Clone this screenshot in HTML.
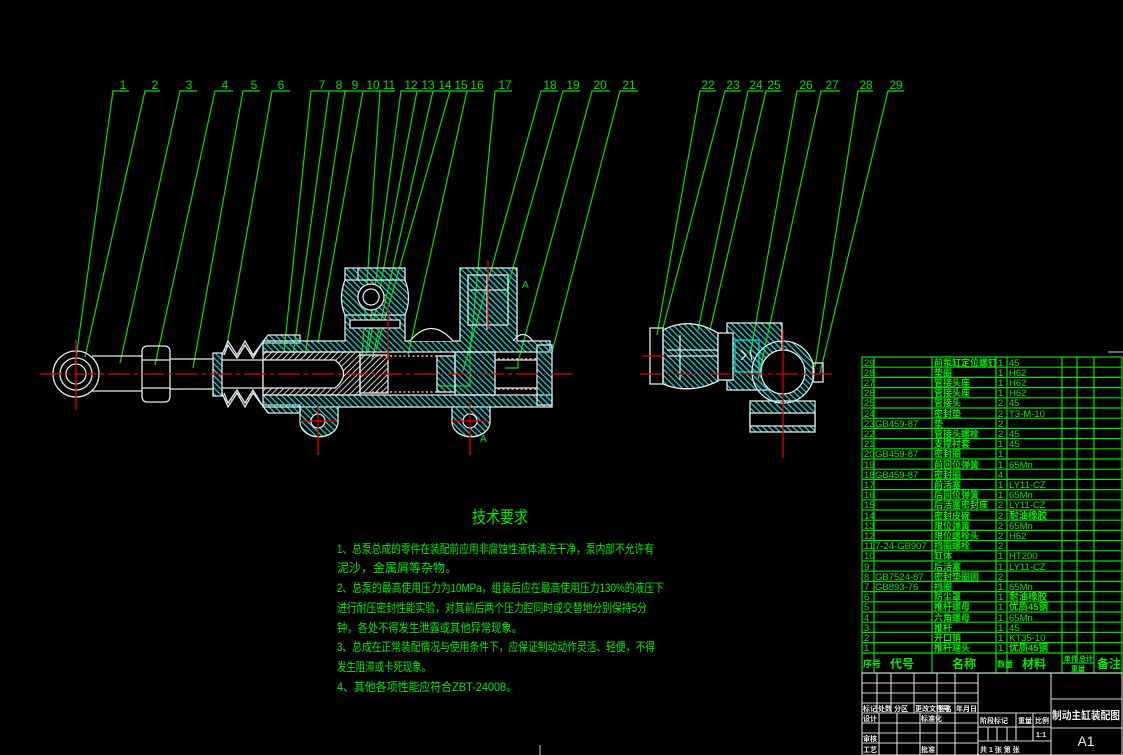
<!DOCTYPE html>
<html><head><meta charset="utf-8"><style>
html,body{margin:0;padding:0;background:#000;}
svg{display:block;}
</style></head><body>
<svg width="1123" height="755" viewBox="0 0 1123 755" xmlns="http://www.w3.org/2000/svg" font-family="'Liberation Sans','Noto Sans CJK SC',sans-serif">
<defs>
<pattern id="h" patternUnits="userSpaceOnUse" width="6" height="6">
<path d="M-1,-1 L7,7 M-1,5 L1,7 M5,-1 L7,1" stroke="#00d8d8" stroke-width="1.3"/>
</pattern>
<pattern id="w" patternUnits="userSpaceOnUse" width="6" height="6">
<path d="M-1,7 L7,-1 M-1,1 L1,-1 M5,7 L7,5" stroke="#cccccc" stroke-width="1"/>
</pattern>
</defs>
<rect width="1123" height="755" fill="#000"/>

<!-- leaders -->
<g stroke="#00e000" stroke-width="1.2" fill="none">
<path d="M129,91 H113 L75,365"/><path d="M160,91 H145 L85,357"/><path d="M197,91 H180 L120,363"/>
<path d="M233,91 H215 L155,365"/><path d="M260,91 H243 L193,368"/><path d="M290,91 H272 L227,345"/>
<path d="M328,91 H311 L284,352"/><path d="M347,91 H329 L293,356"/><path d="M362,91 H345 L305,356"/>
<path d="M380,91 H363 L318,343"/><path d="M395,91 H380 L362,358"/><path d="M418,91 H401 L366,355"/>
<path d="M432,91 H417 L368,352"/><path d="M450,91 H433 L372,360"/><path d="M467,91 H450 L376,350"/>
<path d="M484,91 H467 L408,355"/><path d="M512,91 H495 L470,353 V386 H438"/><path d="M558,91 H541 L463,371"/>
<path d="M580,91 H563 L505,296"/><path d="M610,91 H592 L518,362 V368 H505"/><path d="M638,91 H620 L552,352"/>
<path d="M716,91 H700 L657,335"/><path d="M741,91 H725 L663,328"/><path d="M763,91 H748 L698,330"/>
<path d="M781,91 H766 L710,330"/><path d="M815,91 H797 L750,356"/><path d="M840,91 H821 L758,379"/>
<path d="M873,91 H858 L815,367"/><path d="M904,91 H888 L820,373"/>
</g>
<g fill="#00e000" font-size="12" text-anchor="middle">
<text x="123" y="89">1</text><text x="155" y="89">2</text><text x="189" y="89">3</text><text x="225" y="89">4</text>
<text x="254" y="89">5</text><text x="281" y="89">6</text><text x="322" y="89">7</text><text x="339" y="89">8</text>
<text x="355" y="89">9</text><text x="373" y="89">10</text><text x="389" y="89">11</text><text x="411" y="89">12</text>
<text x="428" y="89">13</text><text x="445" y="89">14</text><text x="461" y="89">15</text><text x="477" y="89">16</text>
<text x="505" y="89">17</text><text x="550" y="89">18</text><text x="573" y="89">19</text><text x="600" y="89">20</text>
<text x="629" y="89">21</text><text x="708" y="89">22</text><text x="733" y="89">23</text><text x="756" y="89">24</text>
<text x="774" y="89">25</text><text x="806" y="89">26</text><text x="832" y="89">27</text><text x="866" y="89">28</text>
<text x="896" y="89">29</text>
</g>

<!-- left assembly -->
<g stroke="#e8e8e8" stroke-width="1.3" fill="none">
<circle cx="76" cy="374" r="23"/><circle cx="76" cy="374" r="16"/><circle cx="76" cy="374" r="10"/>
<path d="M92,356 H142 M92,391 H142"/>
<rect x="142" y="346" width="28" height="56" rx="5"/>
<path d="M142,360 H170 M142,388 H170"/>
<path d="M170,359 H213 M170,389 H213"/>
<!-- boot -->
<path d="M213,353 H222 V396 H213 Z" fill="url(#h)"/>
<path d="M222,355 L228,341 L237,355 L245,341 L253,355 L268,335 H300 V343 H262 L253,358 L245,345 L237,358 L228,345 L224,355" fill="url(#h)"/>
<path d="M222,393 L228,407 L237,393 L245,407 L253,393 L268,413 H300 V405 H262 L253,390 L245,403 L237,390 L228,403 L224,393" fill="url(#h)"/>
<path d="M222,360 H300 M222,388 H300"/>
<!-- body -->
<path d="M263,341 H345 V315 Q338,298 345,280 V268 H405 V280 Q412,298 405,315 V341 H460 V268 H517 V341 H550 V352 H263 Z" fill="url(#h)"/>
<path d="M263,395 H552 V407 H263 Z" fill="url(#h)"/>
<path d="M345,280 H405 M358,268 V280"/>
<circle cx="371" cy="297" r="13" fill="#000"/><circle cx="371" cy="297" r="8"/>
<path d="M345,315 H405 M350,320 H400 V328 H350 Z" fill="#000"/>
<path d="M410,341 Q431,316 453,341" fill="#000"/>
<path d="M513,341 Q523,328 533,341"/>
<rect x="468" y="275" width="40" height="50" fill="url(#h)"/>
<path d="M487,275 V330 M470,290 H506"/>
<rect x="537" y="345" width="15" height="60" fill="url(#h)"/>
<!-- lugs -->
<path d="M300,407 V422 A18,14 0 0 0 338,422 V407" fill="url(#h)"/>
<circle cx="318" cy="421" r="7" fill="#000"/>
<path d="M452,407 V422 A18,14 0 0 0 490,422 V407" fill="url(#h)"/>
<circle cx="470" cy="421" r="7" fill="#000"/>
<!-- rear piston -->
<path d="M263,352 H360 V395 H263 Z" fill="url(#w)"/>
<path d="M263,360 H335 Q352,374 335,388 H263 Z" fill="#000"/>
<rect x="360" y="355" width="28" height="38" fill="url(#w)"/>
<rect x="437" y="356" width="18" height="36" fill="url(#h)"/>
<rect x="455" y="352" width="40" height="43" fill="url(#h)"/>
<path d="M495,360 H537 M495,388 H537"/>
</g>
<g fill="none" stroke="#ffb0b0" stroke-width="1.5" stroke-dasharray="2 2.5">
<path d="M372,356 H450 M372,392 H450 M498,359 H537 M498,389 H537"/>
</g>

<!-- right assembly -->
<g stroke="#e8e8e8" stroke-width="1.3" fill="none">
<rect x="650" y="328" width="13" height="56"/>
<path d="M663,330 Q690,316 718,333 V381 Q690,395 663,384 Z" fill="url(#h)"/>
<path d="M667,350 H718 M667,356 H718 M680,335 V380"/>
<rect x="727" y="323" width="55" height="67" fill="url(#h)"/>
<rect x="718" y="333" width="15" height="47" fill="#000"/>
<rect x="735" y="340" width="24" height="32" fill="url(#h)" stroke="#00d8d8"/>
<path d="M741,350 L746,355 L741,360 M750,350 L752,360"/>
<circle cx="783" cy="372" r="31" fill="url(#h)"/>
<circle cx="783" cy="372" r="22" fill="#000"/>
<rect x="750" y="401" width="65" height="31" fill="url(#h)"/>
<rect x="750" y="413" width="65" height="13" fill="#000"/>
<rect x="813" y="363" width="10" height="19"/>
</g>

<!-- center lines -->
<g stroke="#e00000" stroke-width="1.3" fill="none">
<path d="M40,374 H572" stroke-dasharray="22 4 4 4"/>
<path d="M640,374 H835" stroke-dasharray="22 4 4 4"/>
<path d="M76,340 V410 M318,404 V455 M300,421 H336 M470,402 V455 M452,421 H488 M388,303 V360 M488,260 V330 M783,330 V458 M643,356 H665"/>
</g>
<g fill="#00e000" font-size="10"><text x="522" y="288">A</text><text x="480" y="442">A</text></g>

<!-- technical requirements -->
<g fill="#00ee00">
<text x="500" y="523" font-size="17" text-anchor="middle" textLength="56" lengthAdjust="spacingAndGlyphs">技术要求</text>
<g font-size="12">
<text x="337" y="553" textLength="317" lengthAdjust="spacingAndGlyphs">1、总泵总成的零件在装配前应用非腐蚀性液体清洗干净，泵内部不允许有</text>
<text x="337" y="572" textLength="120" lengthAdjust="spacingAndGlyphs">泥沙，金属屑等杂物。</text>
<text x="337" y="592" textLength="327" lengthAdjust="spacingAndGlyphs">2、总泵的最高使用压力为10MPa，组装后应在最高使用压力130%的液压下</text>
<text x="337" y="612" textLength="310" lengthAdjust="spacingAndGlyphs">进行耐压密封性能实验，对其前后两个压力腔同时或交替地分别保持5分</text>
<text x="337" y="632" textLength="185" lengthAdjust="spacingAndGlyphs">钟，各处不得发生泄露或其他异常现象。</text>
<text x="337" y="651" textLength="318" lengthAdjust="spacingAndGlyphs">3、总成在正常装配情况与使用条件下，应保证制动动作灵活、轻便，不得</text>
<text x="337" y="671" textLength="94" lengthAdjust="spacingAndGlyphs">发生阻滞或卡死现象。</text>
<text x="337" y="691" textLength="180" lengthAdjust="spacingAndGlyphs">4、其他各项性能应符合ZBT-24008。</text>
</g></g>

<!-- parts table -->
<path d="M1108,352 H1123" stroke="#ccc" stroke-width="1"/>
<g stroke="#00e000" stroke-width="1.2" fill="none">
<rect x="862" y="357" width="260" height="316"/>
<path d="M862,367.2 H1122 M862,377.4 H1122 M862,387.6 H1122 M862,397.8 H1122 M862,408 H1122 M862,418.2 H1122 M862,428.4 H1122 M862,438.6 H1122 M862,448.8 H1122 M862,459 H1122 M862,469.2 H1122 M862,479.4 H1122 M862,489.6 H1122 M862,499.8 H1122 M862,510 H1122 M862,520.2 H1122 M862,530.4 H1122 M862,540.6 H1122 M862,550.8 H1122 M862,561 H1122 M862,571.2 H1122 M862,581.4 H1122 M862,591.6 H1122 M862,601.8 H1122 M862,612 H1122 M862,622.2 H1122 M862,632.4 H1122 M862,642.6 H1122 M862,653 H1122"/>
<path d="M874,357 V673 M932,357 V673 M996,357 V673 M1007,357 V673 M1062,357 V673 M1077,357 V663 M1094,357 V673 M1062,663 H1094"/>
</g>
<g fill="#00ee00" font-size="9.5">
<g>
<text x="864" y="366">29</text><text x="864" y="376">28</text><text x="864" y="386">27</text><text x="864" y="396">26</text><text x="864" y="406">25</text><text x="864" y="417">24</text><text x="864" y="427">23</text><text x="864" y="437">22</text><text x="864" y="447">21</text><text x="864" y="457">20</text><text x="864" y="468">19</text><text x="864" y="478">18</text><text x="864" y="488">17</text><text x="864" y="498">16</text><text x="864" y="508">15</text><text x="864" y="519">14</text><text x="864" y="529">13</text><text x="864" y="539">12</text><text x="864" y="549">11</text><text x="864" y="559">10</text><text x="864" y="570">9</text><text x="864" y="580">8</text><text x="864" y="590">7</text><text x="864" y="600">6</text><text x="864" y="610">5</text><text x="864" y="621">4</text><text x="864" y="631">3</text><text x="864" y="641">2</text><text x="864" y="651">1</text>
</g>
<text x="875" y="427">GB459-87</text><text x="875" y="457">GB459-87</text><text x="875" y="478">GB459-87</text><text x="875" y="549">7-24-GB907</text><text x="875" y="580">GB7524-87</text><text x="875" y="590">GB893-76</text>
<g font-weight="bold" font-size="9">
<text x="934" y="366">前泵缸定位螺钉</text><text x="934" y="376">垫圈</text><text x="934" y="386">管接头座</text><text x="934" y="396">管接头座</text><text x="934" y="406">管接头</text><text x="934" y="417">密封垫</text><text x="934" y="427">垫</text><text x="934" y="437">管接头螺栓</text><text x="934" y="447">支撑衬套</text><text x="934" y="457">密封圈</text><text x="934" y="468">前回位弹簧</text><text x="934" y="478">密封圈</text><text x="934" y="488">前活塞</text><text x="934" y="498">后回位弹簧</text><text x="934" y="508">后活塞密封座</text><text x="934" y="519">密封皮碗</text><text x="934" y="529">限位弹簧</text><text x="934" y="539">限位螺栓头</text><text x="934" y="549">挡圈螺栓</text><text x="934" y="559">缸体</text><text x="934" y="570">后活塞</text><text x="934" y="580">密封垫圈固</text><text x="934" y="590">挡圈</text><text x="934" y="600">防尘罩</text><text x="934" y="610">推杆螺母</text><text x="934" y="621">六角螺母</text><text x="934" y="631">推杆</text><text x="934" y="641">开口销</text><text x="934" y="651">推杆端头</text>
</g>
<text x="998" y="366">1</text><text x="998" y="376">1</text><text x="998" y="386">1</text><text x="998" y="396">1</text><text x="998" y="406">2</text><text x="998" y="417">2</text><text x="998" y="427">2</text><text x="998" y="437">2</text><text x="998" y="447">1</text><text x="998" y="457">1</text><text x="998" y="468">1</text><text x="998" y="478">4</text><text x="998" y="488">1</text><text x="998" y="498">1</text><text x="998" y="508">2</text><text x="998" y="519">2</text><text x="998" y="529">2</text><text x="998" y="539">2</text><text x="998" y="549">2</text><text x="998" y="559">1</text><text x="998" y="570">1</text><text x="998" y="580">2</text><text x="998" y="590">1</text><text x="998" y="600">1</text><text x="998" y="610">1</text><text x="998" y="621">1</text><text x="998" y="631">1</text><text x="998" y="641">1</text><text x="998" y="651">1</text>
<text x="1009" y="366">45</text><text x="1009" y="376">H62</text><text x="1009" y="386">H62</text><text x="1009" y="396">H62</text><text x="1009" y="406">45</text><text x="1009" y="417">T3-M-10</text><text x="1009" y="437">45</text><text x="1009" y="447">45</text><text x="1009" y="468">65Mn</text><text x="1009" y="488">LY11-CZ</text><text x="1009" y="498">65Mn</text><text x="1009" y="508">LY11-CZ</text><text x="1009" y="519" font-weight="bold">耐油橡胶</text><text x="1009" y="529">65Mn</text><text x="1009" y="539">H62</text><text x="1009" y="559">HT200</text><text x="1009" y="570">LY11-CZ</text><text x="1009" y="590">65Mn</text><text x="1009" y="600" font-weight="bold">耐油橡胶</text><text x="1009" y="610" font-weight="bold">优质45钢</text><text x="1009" y="621">65Mn</text><text x="1009" y="631">45</text><text x="1009" y="641">KT35-10</text><text x="1009" y="651" font-weight="bold">优质45钢</text>
<g font-size="12" font-weight="bold">
<text x="863" y="667" font-size="9">序号</text><text x="890" y="668">代号</text><text x="952" y="668">名称</text><text x="997" y="667" font-size="8">数量</text><text x="1022" y="668">材料</text><text x="1064" y="661" font-size="7">单件</text><text x="1079" y="661" font-size="7">总计</text><text x="1071" y="671" font-size="7">重量</text><text x="1097" y="668">备注</text>
</g>
</g>

<!-- title block -->
<g stroke="#d8d8d8" stroke-width="1.1" fill="none">
<rect x="862" y="673" width="260" height="82"/>
<path d="M978,673 V755 M1051,673 V755"/>
<path d="M862,683 H978 M862,693 H978 M862,703 H978 M862,713 H978 M862,723 H978 M862,733 H978 M862,743 H978"/>
<path d="M877,673 V713 M891,673 V713 M914,673 V713 M937,673 V755 M955,673 V755 M879,713 V755 M897,713 V755 M920,713 V755"/>
<path d="M978,713 H1051 M978,727 H1051 M978,741 H1051 M1016,713 V741 M1033,713 V741 M988,727 V741 M997,727 V741 M1007,727 V741"/>
<path d="M1051,699 H1122 M1051,728 H1122"/>
</g>
<g fill="#eee" font-size="7" font-weight="bold">
<text x="863" y="711">标记</text><text x="878" y="711">处数</text><text x="894" y="711">分区</text><text x="915" y="711">更改文件号</text><text x="938" y="711">签名</text><text x="956" y="711">年月日</text>
<text x="863" y="721">设计</text><text x="921" y="721">标准化</text><text x="863" y="741">审核</text><text x="863" y="752">工艺</text><text x="921" y="752">批准</text>
<text x="980" y="723">阶段标记</text><text x="1018" y="723">重量</text><text x="1035" y="723">比例</text><text x="1036" y="737">1:1</text>
<text x="980" y="752">共 1 张  第  张</text>
<text x="1052" y="719" font-size="11" textLength="68" lengthAdjust="spacingAndGlyphs">制动主缸装配图</text>
</g>
<text x="1086" y="746" fill="#eee" font-size="14" text-anchor="middle">A1</text>
<path d="M540,745 V755" stroke="#ccc"/>
</svg>
</body></html>
